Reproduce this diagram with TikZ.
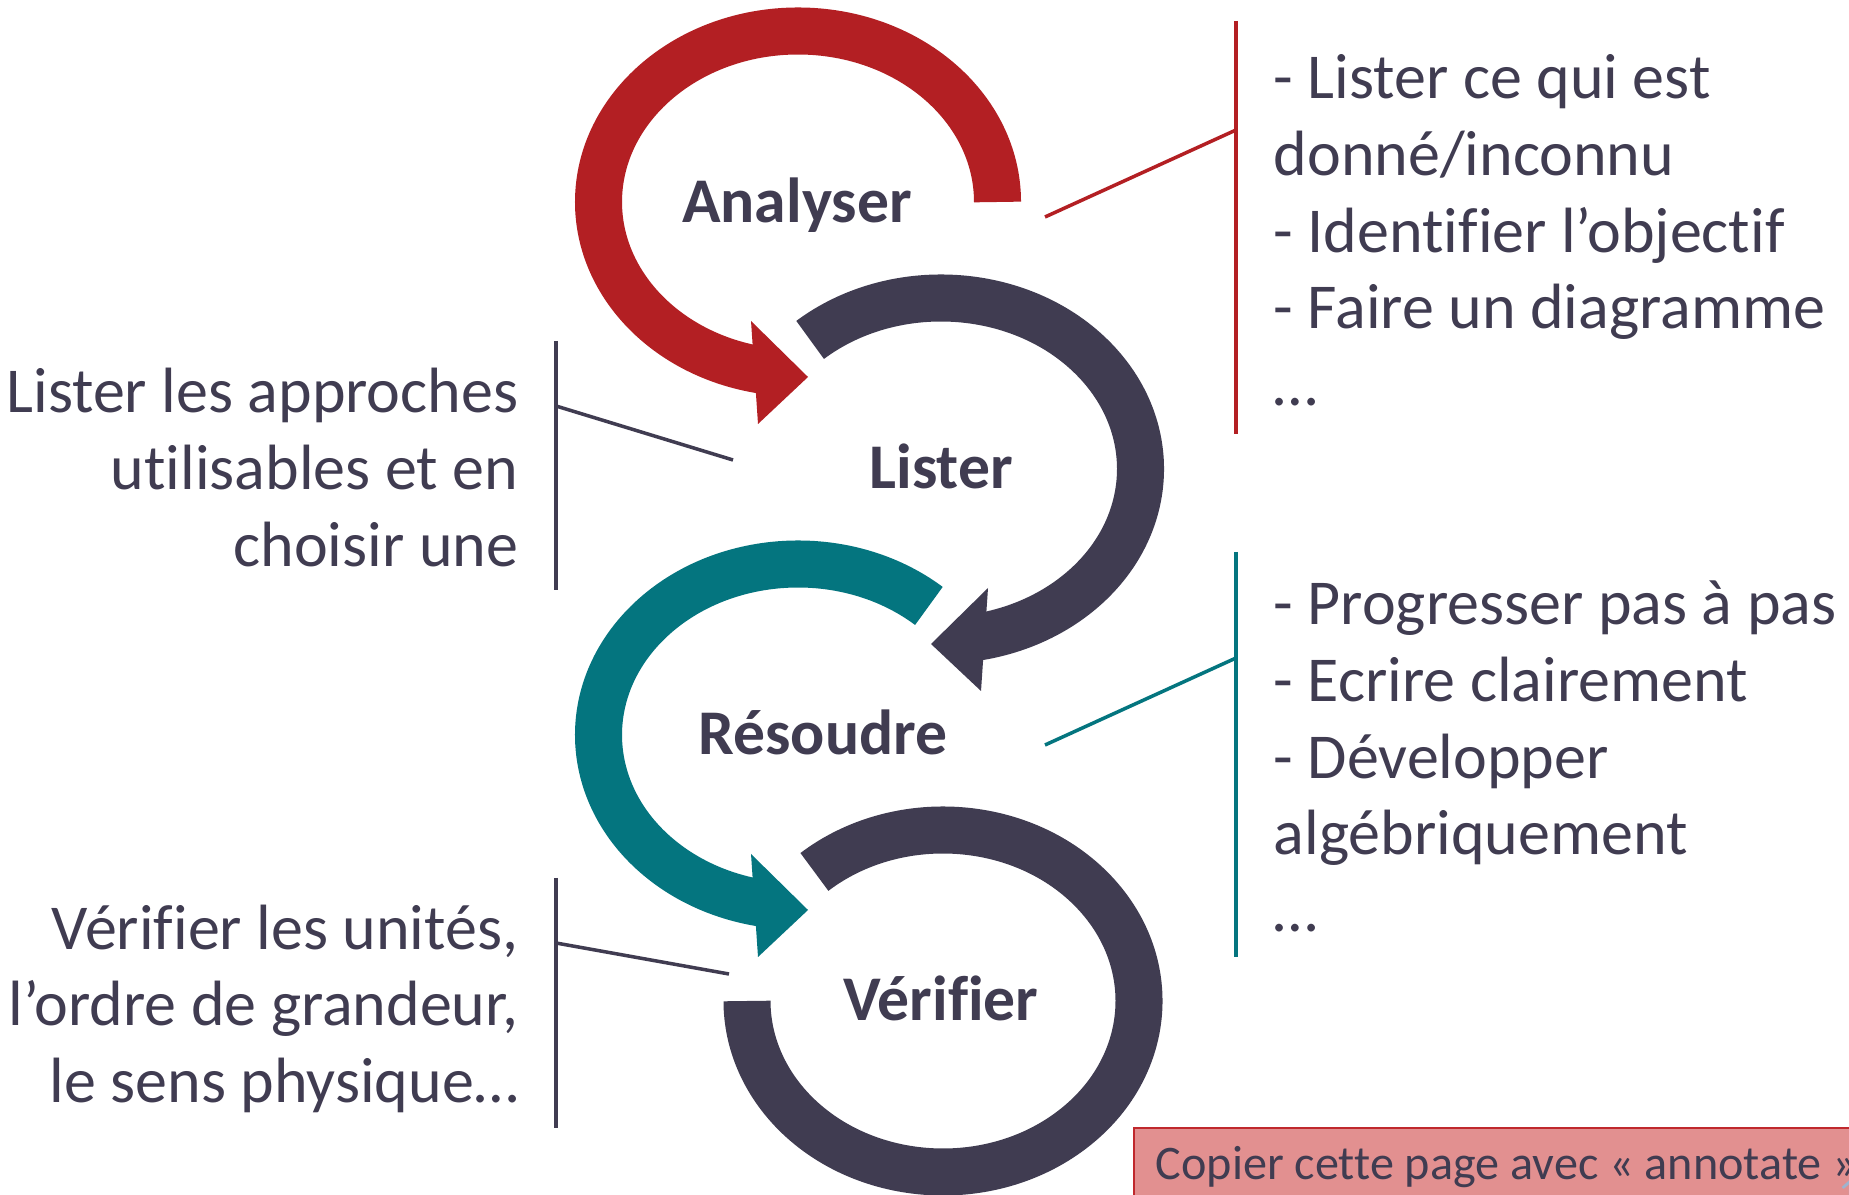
\documentclass[tikz,border=0pt]{standalone}
\usepackage{fontspec}
\setmainfont{Carlito}[Ligatures=NoCommon]
\usetikzlibrary{calc}
\definecolor{ringred}{HTML}{B31F23}
\definecolor{ringdark}{HTML}{403C51}
\definecolor{ringteal}{HTML}{04757F}
\definecolor{inktext}{HTML}{403C51}
\definecolor{notefill}{HTML}{E29090}
\definecolor{noteedge}{HTML}{C0282D}
\definecolor{pagenum}{HTML}{9DB3CF}

\begin{document}
\begin{tikzpicture}[x=0.01cm,y=0.01cm,
  ring/.style={line width=0.47cm},
  steplabel/.style={font=\bfseries\fontsize{18.1}{21.8}\selectfont, text=inktext, anchor=base, inner sep=0pt},
  bodyline/.style={font=\fontsize{18.2}{21.8}\selectfont, text=inktext, anchor=base west, inner sep=0pt},
  sideline/.style={font=\fontsize{18.2}{21.8}\selectfont, text=inktext, anchor=base east, inner sep=0pt},
  bracket/.style={line width=1pt}
]
\useasboundingbox (0,0) rectangle (1849,1194);
\clip (0,0) rectangle (1849,1194);
\fill[white] (0,0) rectangle (1849,1194);

% centres of the four loops
\coordinate (A) at (798,992);
\coordinate (L) at (941,725);
\coordinate (R) at (798,459);
\coordinate (V) at (943,193);

% Analyser loop (red), counter-clockwise, arrow into Lister
\draw[ring, ringred] (A) ++(0:199.5 and 171) arc[start angle=0, end angle=261, x radius=199.5, y radius=171];
\fill[ringred] ($(A)+(-47,-119)$) -- ($(A)+(10,-175)$) -- ($(A)+(-40,-222)$) -- cycle;

% Lister loop (dark), clockwise, arrow into Résoudre
\draw[ring, ringdark] (L) ++(131:199.5 and 171) arc[start angle=131, end angle=-81, x radius=199.5, y radius=171];
\fill[ringdark] ($(L)+(47,-119)$) -- ($(L)+(-10,-175)$) -- ($(L)+(40,-222)$) -- cycle;

% Résoudre loop (teal), counter-clockwise, arrow into Vérifier
\draw[ring, ringteal] (R) ++(49:199.5 and 171) arc[start angle=49, end angle=261, x radius=199.5, y radius=171];
\fill[ringteal] ($(R)+(-47,-119)$) -- ($(R)+(10,-175)$) -- ($(R)+(-40,-222)$) -- cycle;

% Vérifier loop (dark), clockwise, open end
\draw[ring, ringdark] (V) ++(131:196 and 171) arc[start angle=131, end angle=-180, x radius=196, y radius=171];

% step names
\node[steplabel] (analyser) at (797,971) {Analyser};
\node[steplabel] (lister) at (941,705) {Lister};
\node[steplabel] (resoudre) at (823,439) {Résoudre};
\node[steplabel] (verifier) at (941,173) {Vérifier};

% notes for Analyser
\node[bodyline] (an1) at (1273,1095) {- Lister ce qui est};
\node[bodyline] (an2) at (1273,1018.4) {donné/inconnu};
\node[bodyline] (an3) at (1273,941.8) {- Identifier l’objectif};
\node[bodyline] (an4) at (1273,865.2) {- Faire un diagramme};
\node[bodyline] (an5) at (1273,788.6) {…};
\coordinate (anTop) at (1236,1173);
\coordinate (anBot) at (1236,760);
\coordinate (anKnee) at (1236,1064);
\coordinate (anTip) at (1045,977);
\draw[bracket, ringred] (anTop) -- (anBot);
\draw[bracket, ringred] (anKnee) -- (anTip);

% notes for Résoudre
\node[bodyline] (re1) at (1273,569) {- Progresser pas à pas};
\node[bodyline] (re2) at (1273,492.4) {- Ecrire clairement};
\node[bodyline] (re3) at (1273,415.8) {- Développer};
\node[bodyline] (re4) at (1273,339.2) {algébriquement};
\node[bodyline] (re5) at (1273,262.6) {…};
\coordinate (reTop) at (1236,642);
\coordinate (reBot) at (1236,237);
\coordinate (reKnee) at (1236,536);
\coordinate (reTip) at (1045,449);
\draw[bracket, ringteal] (reTop) -- (reBot);
\draw[bracket, ringteal] (reKnee) -- (reTip);

% notes for Lister
\node[sideline] (li1) at (519,781) {Lister les approches};
\node[sideline] (li2) at (519,704.4) {utilisables et en};
\node[sideline] (li3) at (519,627.8) {choisir une};
\coordinate (liTop) at (556,853);
\coordinate (liBot) at (556,604);
\coordinate (liKnee) at (556,788);
\coordinate (liTip) at (733,734);
\draw[bracket, ringdark] (liTop) -- (liBot);
\draw[bracket, ringdark] (liKnee) -- (liTip);

% notes for Vérifier
\node[sideline] (ve1) at (519,245) {Vérifier les unités,};
\node[sideline] (ve2) at (519,168.4) {l’ordre de grandeur,};
\node[sideline] (ve3) at (519,91.8) {le sens physique…};
\coordinate (veTop) at (556,316);
\coordinate (veBot) at (556,66);
\coordinate (veKnee) at (556,251);
\coordinate (veTip) at (729,220);
\draw[bracket, ringdark] (veTop) -- (veBot);
\draw[bracket, ringdark] (veKnee) -- (veTip);

% reminder box in the corner
\filldraw[fill=notefill, draw=noteedge, line width=0.8pt] (1134,66) rectangle (1880,-20);
\node[font=\fontsize{13.7}{16.5}\selectfont, text=inktext, anchor=base west, inner sep=0pt] (note) at (1155,15) {Copier cette page avec « annotate »};
\node[font=\fontsize{12}{14}\selectfont, text=pagenum, anchor=north west, inner sep=0pt] (pagenr) at (1838,14) {1};
\end{tikzpicture}
\end{document}
